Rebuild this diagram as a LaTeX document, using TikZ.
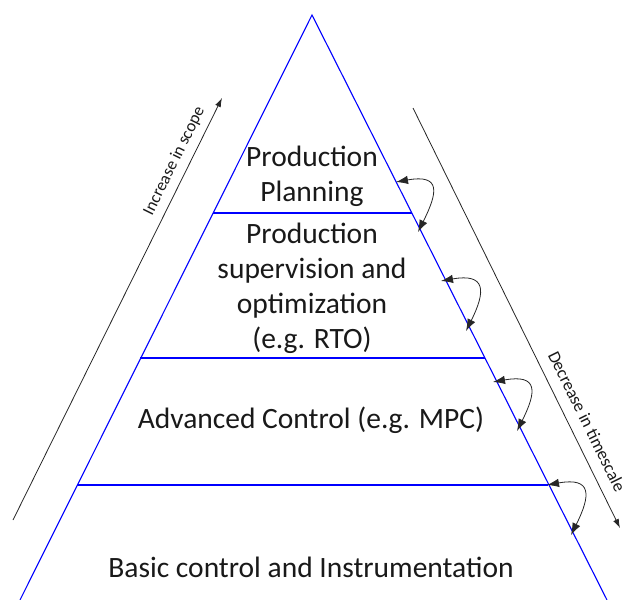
\documentclass[tikz,border=0pt]{standalone}
\usepackage{fontspec}
\setmainfont{Carlito}
\usetikzlibrary{arrows.meta}
\begin{document}
\begin{tikzpicture}[x=1pt,y=-1pt,
  pyrline/.style={draw=blue,line width=1.1pt},
  levelline/.style={draw=blue,line width=1.4pt},
  levellabel/.style={align=center,font=\fontsize{29.5}{35}\selectfont,text=black!90,inner sep=0pt},
  sidelabel/.style={text=black!90,sloped,above},
  sidearrow/.style={black!85,line width=0.8pt,-{Latex[length=9pt,width=6pt]}},
  swaparrow/.style={black!85,line width=0.8pt,{Latex[length=12pt,width=8.5pt]}-{Latex[length=12pt,width=8.5pt]}}]
\useasboundingbox (0,0) rectangle (627,600);
% pyramid
\coordinate (apex) at (312,15);
\coordinate (bl) at (20,600);
\coordinate (br) at (607,600);
\coordinate (l1) at (213,213); \coordinate (r1) at (412,213);
\coordinate (l2) at (140,358); \coordinate (r2) at (485,358);
\coordinate (l3) at (77,485);  \coordinate (r3) at (548,485);
\draw[pyrline] (bl) -- (apex) -- (br);
\draw[levelline] (l1) -- (r1);
\draw[levelline] (l2) -- (r2);
\draw[levelline] (l3) -- (r3);
% labels
\node[levellabel] (plan) at (312,176) {Production\\Planning};
\node[levellabel] (sup) at (312,288) {Production\\supervision and\\optimization\\(e.g. RTO)};
\node[levellabel] (adv) at (311,420) {Advanced Control (e.g. MPC)};
\node[levellabel] (basic) at (311,567) {Basic control and Instrumentation};
% side arrows
\coordinate (s0) at (13,520); \coordinate (s1) at (222,98);
\draw[sidearrow] (s0) -- node[sidelabel,pos=0.835,inner sep=7pt,font=\fontsize{17}{20}\selectfont] (scope) {Increase in scope} (s1);
\coordinate (t0) at (413,108); \coordinate (t1) at (620,528);
\draw[sidearrow] (t0) -- node[sidelabel,pos=0.765,inner sep=11pt,font=\fontsize{17.5}{20}\selectfont] (time) {Decrease in timescale} (t1);
% swap arrows
\coordinate (a1) at (396,182); \coordinate (b1) at (418,232);
\coordinate (a2) at (441,281); \coordinate (b2) at (466,331);
\coordinate (a3) at (493,382); \coordinate (b3) at (517,431);
\coordinate (a4) at (547,485); \coordinate (b4) at (571,535);
\foreach \i in {1,2,3,4}{
  \draw[swaparrow] (a\i) .. controls +(45,-8) and +(20,-40) .. (b\i);
}
\end{tikzpicture}
\end{document}
